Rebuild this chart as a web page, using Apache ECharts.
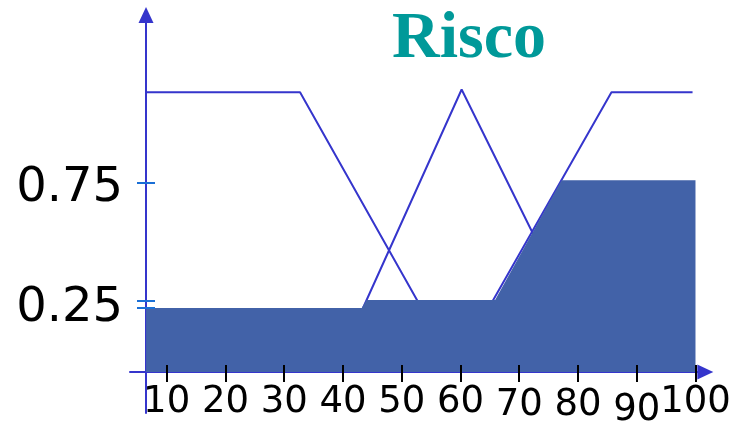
<!DOCTYPE html>
<html>
<head>
<meta charset="utf-8">
<script src="https://cdn.jsdelivr.net/npm/echarts@6/dist/echarts.min.js"></script>
<style>
html, body { margin: 0; padding: 0; background: #ffffff; }
#chart { width: 733px; height: 422px; }
</style>
</head>
<body>
<div id="chart"></div>
<script>
// data
var titleText = "Risco";
var xTickValues = [10, 20, 30, 40, 50, 60, 70, 80, 90, 100];
var yLabelValues = [0.25, 0.75];
var yTickValues = [0.252, 0.283, 0.772];

// membership curves
var lowCurve = [[6.5, 1], [32.7, 1], [59.5, 0]];
var midCurve = [[38.5, 0], [60.2, 1.01], [84, 0]];
var highCurve = [[58.6, 0], [85.7, 1], [99.5, 1]];

// aggregated (filled) area
var riskArea = [[6.5, 0], [6.5, 0.229], [43.2, 0.229], [44, 0.257], [65.9, 0.257], [77.2, 0.686], [100, 0.686], [100, 0]];

var lineColor = "#3535cc";
var labelFont = "DejaVu Sans";

var myChart = echarts.init(document.getElementById("chart"));

function curve(data) {
  return {
    type: "line",
    xAxisIndex: 0,
    yAxisIndex: 1,
    z: 1,
    data: data,
    symbol: "none",
    silent: true,
    lineStyle: { color: lineColor, width: 2 }
  };
}

myChart.setOption({
  animation: false,
  title: {
    text: titleText,
    left: 392,
    top: 7,
    padding: 0,
    textStyle: {
      fontFamily: "Liberation Serif",
      fontWeight: "bold",
      fontSize: 66,
      color: "#009999"
    }
  },
  grid: { left: 130, right: 27.7, top: 15, bottom: 9, outerBoundsMode: "none", containLabel: false },
  xAxis: [
    {
      type: "value",
      position: "bottom",
      min: 3.76,
      max: 101.67,
      axisLine: {
        onZero: true,
        onZeroAxisIndex: 1,
        symbol: ["none", "triangle"],
        symbolSize: [15, 16],
        lineStyle: { color: lineColor, width: 2 }
      },
      axisTick: { show: false },
      axisLabel: { show: false },
      splitLine: { show: false }
    },
    {
      type: "value",
      position: "bottom",
      min: 3.76,
      max: 101.67,
      offset: -48,
      z: 10,
      axisLine: { show: false, onZero: false },
      axisTick: {
        show: true,
        customValues: xTickValues,
        length: 17,
        lineStyle: { color: "#000000", width: 2 }
      },
      axisLabel: {
        customValues: xTickValues,
        margin: 19,
        fontSize: 37,
        fontFamily: labelFont,
        color: "#000000",
        formatter: function (v) {
          if (v === 90) return "{b|90}";
          if (v === 70 || v === 80) return "{a|" + v + "}";
          return String(v);
        },
        rich: {
          a: { fontSize: 37, fontFamily: labelFont, color: "#000000", padding: [3, 0, 0, 0] },
          b: { fontSize: 37, fontFamily: labelFont, color: "#000000", padding: [8, 0, 0, 0] }
        }
      },
      splitLine: { show: false }
    }
  ],
  yAxis: [
    {
      type: "value",
      position: "left",
      min: -0.1854,
      max: 1.4729,
      offset: -7,
      z: 10,
      axisLine: { show: false, onZero: false },
      axisTick: {
        show: true,
        inside: true,
        length: 18,
        customValues: yTickValues,
        lineStyle: { color: "#1a6fd6", width: 2 }
      },
      axisLabel: {
        customValues: yLabelValues,
        margin: 14,
        fontSize: 48,
        fontFamily: labelFont,
        color: "#000000"
      },
      splitLine: { show: false }
    },
    {
      type: "value",
      position: "left",
      min: -0.1466,
      max: 1.2764,
      offset: -16,
      axisLine: {
        show: true,
        onZero: false,
        symbol: ["none", "triangle"],
        symbolSize: [15, 16],
        lineStyle: { color: lineColor, width: 2 }
      },
      axisTick: { show: false },
      axisLabel: { show: false },
      splitLine: { show: false }
    }
  ],
  series: [
    curve(lowCurve),
    curve(midCurve),
    curve(highCurve),
    {
      type: "line",
      xAxisIndex: 0,
      yAxisIndex: 1,
      z: 3,
      data: riskArea,
      symbol: "none",
      silent: true,
      lineStyle: { width: 0 },
      areaStyle: { color: "#4262a8", opacity: 1 }
    }
  ]
});
</script>
</body>
</html>
